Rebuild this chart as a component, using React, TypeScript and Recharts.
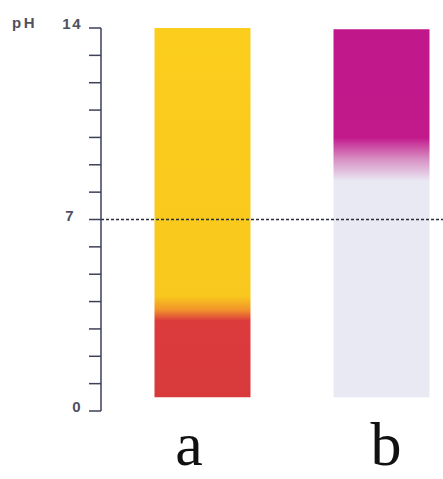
import { BarChart, Bar, Cell, XAxis, YAxis, ReferenceLine } from "recharts";

// indicator strips, pH range covered by each strip
const categories = ["a", "b"];
const phBottom = [0.5, 0.5];
const phTop = [14, 13.95];

// pH scale
const yTicks = [0, 1, 2, 3, 4, 5, 6, 7, 8, 9, 10, 11, 12, 13, 14];
const labelledTicks = [0, 7, 14];
const neutralPH = 7;

// colour change points (pH) for each strip
const stopsA = [14, 4.2, 3.7, 3.3, 0.5];
const stopsB = [14, 10, 9.2, 8.4, 0.5];

const coloursA = ["#fbcd1c", "#f9c81e", "#f1942a", "#dc3b3c", "#d83a3c"];
const coloursB = ["#c0178a", "#c2198b", "#d890c4", "#e9e9f3", "#e9e9f3"];

const data = categories.map((name, i) => ({
  name,
  range: [phBottom[i], phTop[i]],
}));

const axisColor = "#3b4158";
const labelColor = "#50505e";

function YTick(props: any) {
  const { x, y, payload } = props;
  if (!labelledTicks.includes(payload.value)) return null;
  return (
    <g>
      <text
        x={payload.value === 7 ? x - 7 : x}
        y={y + 1}
        textAnchor="end"
        fontFamily="Liberation Sans, Arial, sans-serif"
        fontSize={15}
        fontWeight={600}
        letterSpacing={1.5}
        fill={labelColor}
      >
        {payload.value}
      </text>
      {payload.value === 14 && (
        <text
          x={12}
          y={y}
          fontFamily="Liberation Sans, Arial, sans-serif"
          fontSize={15}
          fontWeight={600}
          letterSpacing={2.5}
          fill={labelColor}
        >
          pH
        </text>
      )}
    </g>
  );
}

function XTick(props: any) {
  const { x, y, payload } = props;
  const shift = payload.value === "a" ? -13 : 5;
  return (
    <text
      x={x + shift}
      y={y + 46}
      textAnchor="middle"
      fontFamily="Liberation Serif, Times New Roman, serif"
      fontSize={62}
      fill="#111"
    >
      {payload.value}
    </text>
  );
}

function stopsFor(stops: number[], colours: string[], i: number) {
  const top = phTop[i];
  const bottom = phBottom[i];
  return stops.map((p, k) => (
    <stop
      key={k}
      offset={`${((top - p) / (top - bottom)) * 100}%`}
      stopColor={colours[k]}
    />
  ));
}

export default function App() {
  return (
    <div style={{ position: "absolute", left: 0, top: 0 }}>
      <BarChart
        width={443}
        height={479}
        data={data}
        margin={{ top: 28, right: -27.5, bottom: 0, left: 0 }}
      >
        <defs>
          <linearGradient id="grad-a" x1="0" y1="0" x2="0" y2="1">
            {stopsFor(stopsA, coloursA, 0)}
          </linearGradient>
          <linearGradient id="grad-b" x1="0" y1="0" x2="0" y2="1">
            {stopsFor(stopsB, coloursB, 1)}
          </linearGradient>
        </defs>
        <XAxis
          dataKey="name"
          axisLine={false}
          tickLine={false}
          height={68}
          padding={{ left: 11.5, right: 0 }}
          tick={<XTick />}
        />
        <YAxis
          type="number"
          domain={[0, 14]}
          ticks={yTicks}
          interval={0}
          width={101}
          tickSize={12}
          tickMargin={7}
          axisLine={{ stroke: axisColor, strokeWidth: 1.5 }}
          tickLine={{ stroke: axisColor, strokeWidth: 1.5 }}
          tick={<YTick />}
        />
        <Bar dataKey="range" barSize={96} isAnimationActive={false}>
          {data.map((d) => (
            <Cell key={d.name} fill={`url(#grad-${d.name})`} />
          ))}
        </Bar>
        <ReferenceLine
          y={neutralPH}
          stroke="#2a2d3a"
          strokeWidth={1.5}
          strokeDasharray="3 2"
        />
      </BarChart>
    </div>
  );
}
